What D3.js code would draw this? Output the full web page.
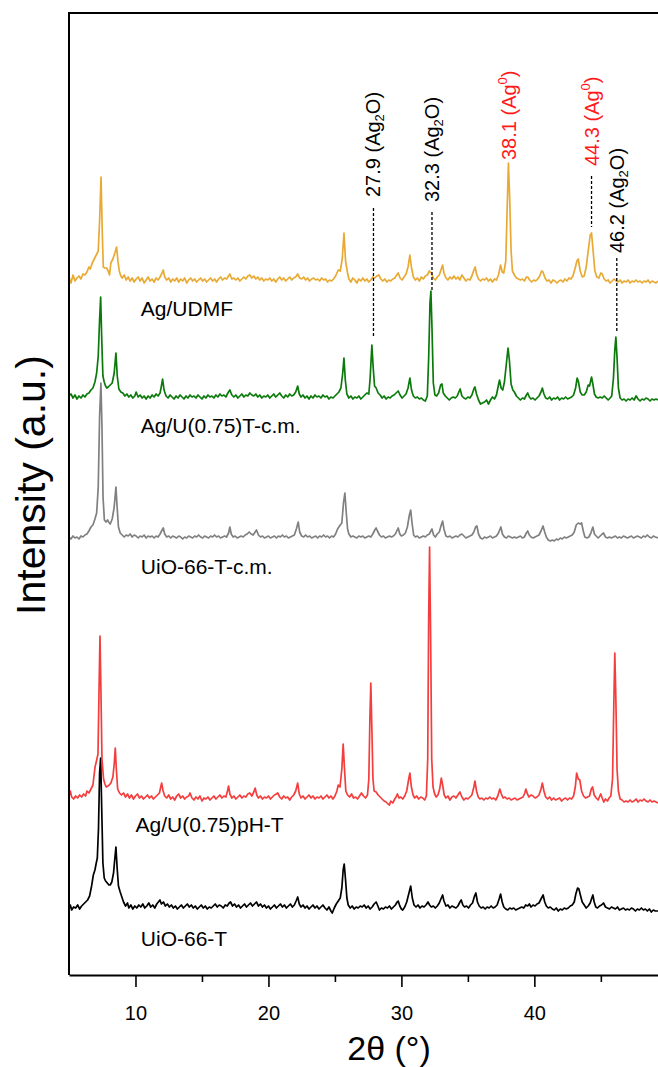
<!DOCTYPE html>
<html>
<head>
<meta charset="utf-8">
<script src="https://cdn.jsdelivr.net/npm/d3@7"></script>
<style>
  html, body { margin: 0; padding: 0; background: #fff; }
  svg { display: block; font-family: "Liberation Sans", Arial, Helvetica, sans-serif; }
</style>
</head>
<body>
<svg id="chart" width="658" height="1067"></svg>
<script>
// ---- XRD patterns: [2θ (°), intensity above the pattern's own baseline (a.u.)] ----
const uio66T = [[5.0,-1],[5.1,3],[5.2,-2],[5.35,1],[5.5,0],[5.65,3],[5.8,-1],[5.95,2],[6.1,4],[6.25,6],[6.4,8],[6.55,12],[6.7,22],[6.83,33],[6.95,38],[7.05,45],[7.13,50],[7.22,80],[7.3,135],[7.38,150],[7.46,100],[7.55,45],[7.65,30],[7.75,27],[7.88,25],[8.0,23],[8.1,23],[8.22,26],[8.35,35],[8.45,50],[8.53,61],[8.62,40],[8.72,22],[8.85,16],[9.0,10],[9.1,6],[9.25,2],[9.4,5],[9.5,0],[9.65,3],[9.8,-1],[9.95,2],[10.1,0],[10.25,3],[10.4,1],[10.55,4],[10.7,0],[10.85,2],[11.0,5],[11.15,1],[11.3,3],[11.45,0],[11.6,4],[11.72,6],[11.84,8],[11.95,4],[12.1,6],[12.25,2],[12.4,4],[12.55,1],[12.7,3],[12.85,0],[13.0,2],[13.15,-1],[13.3,1],[13.45,3],[13.6,0],[13.75,2],[13.9,4],[14.05,1],[14.2,3],[14.35,0],[14.5,2],[14.65,-1],[14.8,1],[14.95,3],[15.1,0],[15.25,2],[15.4,-1],[15.55,1],[15.7,0],[15.85,2],[16.0,4],[16.15,1],[16.3,3],[16.45,2],[16.6,0],[16.75,3],[16.9,2],[17.05,5],[17.15,6],[17.3,2],[17.45,4],[17.6,1],[17.75,3],[17.9,0],[18.05,2],[18.2,4],[18.35,1],[18.5,3],[18.65,5],[18.8,2],[18.95,4],[19.1,6],[19.25,2],[19.4,4],[19.55,1],[19.7,3],[19.85,0],[20.0,2],[20.15,-1],[20.3,1],[20.45,3],[20.6,0],[20.75,2],[20.9,4],[21.05,1],[21.2,3],[21.35,0],[21.5,2],[21.65,4],[21.8,1],[21.95,3],[22.08,7],[22.2,11],[22.32,4],[22.45,1],[22.6,3],[22.75,0],[22.9,2],[23.05,-1],[23.2,1],[23.35,3],[23.5,0],[23.65,2],[23.8,-1],[23.95,1],[24.1,3],[24.25,0],[24.4,-2],[24.55,1],[24.7,-3],[24.8,-5],[24.95,0],[25.1,4],[25.25,7],[25.4,10],[25.52,20],[25.62,38],[25.7,44],[25.8,28],[25.9,10],[26.0,3],[26.15,0],[26.3,2],[26.45,-1],[26.6,1],[26.75,0],[26.9,2],[27.05,1],[27.2,3],[27.35,0],[27.5,2],[27.65,-1],[27.8,1],[27.95,4],[28.1,6],[28.2,3],[28.35,-2],[28.5,0],[28.65,-1],[28.8,1],[28.95,0],[29.1,2],[29.25,-1],[29.4,1],[29.55,3],[29.68,6],[29.76,7],[29.88,2],[30.0,-1],[30.1,-2],[30.25,1],[30.4,6],[30.55,14],[30.7,22],[30.82,10],[30.95,3],[31.1,1],[31.25,3],[31.4,0],[31.55,2],[31.7,1],[31.85,3],[32.0,6],[32.12,3],[32.25,1],[32.4,2],[32.55,0],[32.7,2],[32.85,5],[33.0,10],[33.1,13],[33.2,7],[33.35,2],[33.5,3],[33.65,0],[33.8,2],[33.95,1],[34.1,0],[34.25,2],[34.4,6],[34.5,8],[34.62,3],[34.75,1],[34.9,2],[35.05,0],[35.2,3],[35.35,5],[35.5,12],[35.6,15],[35.72,6],[35.85,2],[36.0,0],[36.15,1],[36.3,-1],[36.45,1],[36.6,0],[36.75,2],[36.9,0],[37.05,1],[37.2,3],[37.35,9],[37.46,14],[37.58,6],[37.7,1],[37.85,-1],[38.0,-2],[38.15,0],[38.3,-1],[38.45,0],[38.6,-2],[38.75,-1],[38.9,0],[39.05,1],[39.2,0],[39.35,3],[39.5,2],[39.62,4],[39.75,1],[39.9,3],[40.05,2],[40.2,4],[40.35,5],[40.5,9],[40.66,13],[40.78,6],[40.9,2],[41.05,0],[41.2,1],[41.35,-1],[41.5,-2],[41.65,0],[41.8,-3],[41.95,-1],[42.1,-2],[42.25,0],[42.4,-1],[42.55,0],[42.7,2],[42.85,3],[43.0,6],[43.12,14],[43.25,20],[43.35,19],[43.48,12],[43.6,6],[43.75,3],[43.9,0],[44.05,2],[44.2,5],[44.32,10],[44.4,13],[44.5,6],[44.62,1],[44.75,0],[44.9,2],[45.05,3],[45.2,5],[45.35,1],[45.5,0],[45.65,-1],[45.8,1],[45.95,0],[46.1,-1],[46.25,1],[46.4,-2],[46.55,-1],[46.7,0],[46.85,-2],[47.0,-1],[47.15,-2],[47.3,0],[47.45,-1],[47.6,-3],[47.75,-1],[47.9,-2],[48.05,0],[48.2,-2],[48.35,-1],[48.5,-3],[48.65,-1],[48.8,-4],[48.95,-2],[49.1,-3],[49.3,-3]];

const agU075pHT = [[5.0,3],[5.1,8],[5.2,2],[5.35,0],[5.5,3],[5.65,1],[5.8,4],[5.95,2],[6.1,5],[6.25,3],[6.35,8],[6.5,6],[6.65,10],[6.8,14],[6.96,32],[7.1,40],[7.18,45],[7.26,110],[7.33,163],[7.4,110],[7.48,40],[7.6,20],[7.7,15],[7.8,12],[7.92,13],[8.03,14],[8.15,16],[8.3,22],[8.4,35],[8.48,51],[8.56,30],[8.66,10],[8.8,6],[8.95,4],[9.1,6],[9.25,2],[9.4,5],[9.55,1],[9.7,4],[9.85,0],[10.0,3],[10.15,5],[10.3,1],[10.45,3],[10.6,0],[10.75,2],[10.9,4],[11.05,1],[11.2,3],[11.35,0],[11.5,2],[11.65,4],[11.8,6],[11.9,12],[11.97,16],[12.08,8],[12.2,3],[12.35,1],[12.5,4],[12.65,0],[12.8,2],[12.95,-1],[13.1,3],[13.25,5],[13.4,1],[13.55,3],[13.7,0],[13.85,2],[14.0,3],[14.1,6],[14.25,1],[14.4,-1],[14.55,2],[14.7,0],[14.85,3],[15.0,-2],[15.15,1],[15.3,0],[15.45,2],[15.6,-1],[15.75,1],[15.9,3],[16.05,0],[16.2,2],[16.35,4],[16.5,1],[16.65,3],[16.8,2],[16.92,8],[17.0,13],[17.1,5],[17.25,1],[17.4,3],[17.55,0],[17.7,2],[17.85,4],[18.0,1],[18.15,3],[18.3,2],[18.45,5],[18.6,6],[18.75,3],[18.9,7],[19.0,11],[19.12,4],[19.25,1],[19.4,3],[19.55,0],[19.7,2],[19.85,1],[20.0,3],[20.15,0],[20.3,2],[20.45,4],[20.6,5],[20.7,6],[20.85,2],[21.0,0],[21.15,3],[21.3,1],[21.45,2],[21.6,-1],[21.75,2],[21.9,4],[22.05,8],[22.2,16],[22.32,5],[22.45,1],[22.6,3],[22.75,0],[22.9,2],[23.05,4],[23.2,1],[23.35,3],[23.5,0],[23.65,2],[23.8,1],[23.95,3],[24.1,0],[24.25,2],[24.4,4],[24.55,1],[24.7,3],[24.85,0],[25.0,3],[25.15,8],[25.25,14],[25.38,12],[25.52,30],[25.62,55],[25.72,30],[25.82,8],[25.95,4],[26.1,2],[26.25,5],[26.4,1],[26.55,2],[26.7,0],[26.85,3],[27.0,6],[27.15,3],[27.3,1],[27.45,4],[27.55,20],[27.63,80],[27.7,116],[27.78,70],[27.86,20],[27.95,8],[28.1,7],[28.25,4],[28.4,2],[28.55,0],[28.7,-2],[28.85,-3],[29.0,-5],[29.1,-6],[29.2,-2],[29.35,-4],[29.5,0],[29.6,2],[29.7,5],[29.82,1],[29.95,2],[30.1,0],[30.25,3],[30.4,8],[30.55,20],[30.64,26],[30.75,12],[30.88,4],[31.0,1],[31.15,3],[31.3,0],[31.45,2],[31.6,1],[31.75,-1],[31.88,3],[31.98,40],[32.05,180],[32.12,252],[32.2,160],[32.28,40],[32.38,12],[32.5,5],[32.62,2],[32.75,4],[32.88,10],[33.0,21],[33.1,14],[33.22,4],[33.35,1],[33.5,3],[33.65,-1],[33.8,2],[33.95,3],[34.1,1],[34.25,4],[34.4,7],[34.55,2],[34.7,-1],[34.85,1],[35.0,0],[35.15,2],[35.3,4],[35.45,12],[35.53,18],[35.65,8],[35.78,2],[35.9,0],[36.05,1],[36.2,-1],[36.35,1],[36.5,0],[36.65,2],[36.8,0],[36.95,1],[37.1,-1],[37.25,3],[37.4,10],[37.52,5],[37.65,1],[37.8,2],[37.95,0],[38.1,1],[38.25,-1],[38.4,0],[38.55,1],[38.7,-1],[38.85,0],[39.0,1],[39.15,2],[39.28,6],[39.36,10],[39.48,5],[39.6,2],[39.75,4],[39.9,3],[40.05,1],[40.2,2],[40.35,4],[40.5,10],[40.6,16],[40.72,8],[40.85,2],[41.0,0],[41.15,2],[41.3,-1],[41.45,1],[41.6,-1],[41.75,0],[41.9,1],[42.05,-2],[42.2,0],[42.35,1],[42.5,-1],[42.65,1],[42.8,0],[42.95,3],[43.08,12],[43.18,26],[43.3,20],[43.42,19],[43.55,8],[43.7,3],[43.85,1],[44.0,2],[44.15,3],[44.28,10],[44.38,12],[44.5,4],[44.65,1],[44.8,-1],[44.92,3],[45.0,5],[45.1,1],[45.22,-3],[45.35,0],[45.5,-2],[45.62,1],[45.75,3],[45.88,20],[45.97,90],[46.05,146],[46.13,100],[46.22,30],[46.32,8],[46.45,0],[46.6,-1],[46.75,-3],[46.9,-2],[47.05,-3],[47.2,-1],[47.35,-3],[47.5,-2],[47.65,0],[47.8,-3],[47.95,-1],[48.1,-2],[48.25,0],[48.4,-2],[48.55,-3],[48.7,-1],[48.85,-3],[49.0,-2],[49.15,-3],[49.3,-4]];

const uio66TCm = [[5.0,0],[5.15,-2],[5.3,1],[5.45,-1],[5.6,0],[5.75,-2],[5.9,1],[6.05,0],[6.2,2],[6.35,3],[6.5,6],[6.65,10],[6.8,12],[6.95,18],[7.08,24],[7.2,50],[7.3,120],[7.4,154],[7.48,110],[7.56,40],[7.66,17],[7.78,15],[7.9,17],[7.98,15],[8.1,13],[8.25,18],[8.4,30],[8.53,50],[8.62,30],[8.72,10],[8.85,4],[9.0,2],[9.15,0],[9.3,2],[9.45,1],[9.6,3],[9.75,0],[9.9,2],[10.05,1],[10.2,-1],[10.35,1],[10.5,0],[10.65,2],[10.8,-1],[10.95,1],[11.1,0],[11.25,1],[11.4,-1],[11.55,1],[11.7,0],[11.85,3],[12.0,7],[12.09,9],[12.2,3],[12.35,0],[12.5,1],[12.65,-1],[12.8,1],[12.95,0],[13.1,-1],[13.25,1],[13.4,0],[13.55,-2],[13.7,0],[13.85,-1],[14.0,1],[14.15,0],[14.3,-1],[14.45,1],[14.6,0],[14.75,2],[14.9,0],[15.05,-1],[15.2,1],[15.35,0],[15.5,-1],[15.65,1],[15.8,0],[15.95,2],[16.1,0],[16.25,1],[16.4,-1],[16.55,0],[16.7,1],[16.85,0],[17.0,4],[17.1,10],[17.2,3],[17.35,0],[17.5,1],[17.65,-1],[17.8,0],[17.95,1],[18.1,0],[18.25,2],[18.4,3],[18.55,5],[18.7,3],[18.85,2],[19.0,5],[19.1,7],[19.25,2],[19.4,0],[19.55,1],[19.7,-1],[19.85,0],[20.0,1],[20.15,-1],[20.3,0],[20.45,1],[20.6,-1],[20.75,1],[20.9,0],[21.05,2],[21.2,0],[21.35,1],[21.5,-1],[21.65,0],[21.8,1],[21.95,2],[22.1,8],[22.24,15],[22.35,5],[22.5,1],[22.65,0],[22.8,2],[22.95,0],[23.1,1],[23.25,-1],[23.4,0],[23.55,1],[23.7,-1],[23.85,1],[24.0,0],[24.15,2],[24.3,0],[24.45,1],[24.6,-1],[24.75,1],[24.9,0],[25.05,3],[25.2,8],[25.4,12],[25.52,14],[25.65,35],[25.75,44],[25.85,25],[25.95,8],[26.05,3],[26.2,0],[26.35,1],[26.5,0],[26.65,-1],[26.8,1],[26.95,0],[27.1,1],[27.25,-1],[27.4,0],[27.55,1],[27.7,0],[27.85,3],[28.0,7],[28.1,9],[28.2,6],[28.35,2],[28.5,0],[28.65,1],[28.8,-1],[28.95,0],[29.1,1],[29.25,0],[29.4,1],[29.55,3],[29.65,6],[29.76,9],[29.88,3],[30.0,1],[30.15,2],[30.3,4],[30.45,10],[30.6,22],[30.7,27],[30.8,14],[30.92,2],[31.05,0],[31.2,1],[31.35,-1],[31.5,0],[31.65,1],[31.8,0],[31.95,2],[32.1,3],[32.3,8],[32.42,2],[32.55,0],[32.7,3],[32.85,5],[33.0,12],[33.1,16],[33.2,8],[33.35,1],[33.5,0],[33.65,1],[33.8,-1],[33.95,0],[34.1,1],[34.25,0],[34.4,2],[34.55,3],[34.7,1],[34.85,-1],[35.0,0],[35.15,1],[35.3,2],[35.45,5],[35.58,10],[35.68,11],[35.8,3],[35.95,-1],[36.1,-2],[36.25,0],[36.4,-1],[36.55,0],[36.7,1],[36.85,-1],[37.0,0],[37.15,1],[37.3,4],[37.48,10],[37.6,3],[37.75,0],[37.9,-1],[38.05,1],[38.2,0],[38.35,-1],[38.5,0],[38.65,-1],[38.8,0],[38.95,1],[39.1,-1],[39.25,0],[39.4,4],[39.5,6],[39.62,2],[39.75,0],[39.9,-1],[40.05,0],[40.2,1],[40.35,2],[40.5,6],[40.65,11],[40.78,5],[40.9,0],[41.05,-3],[41.2,-4],[41.35,-3],[41.5,-4],[41.65,-2],[41.8,-3],[41.95,-1],[42.1,-2],[42.25,0],[42.4,-1],[42.55,0],[42.7,1],[42.85,2],[43.0,5],[43.15,12],[43.3,14],[43.45,13],[43.55,14],[43.68,6],[43.8,0],[43.95,-1],[44.1,0],[44.25,4],[44.4,10],[44.52,3],[44.65,1],[44.8,-1],[44.95,1],[45.1,3],[45.2,4],[45.35,0],[45.5,-1],[45.65,0],[45.8,-1],[45.95,0],[46.1,1],[46.25,-1],[46.4,0],[46.55,-1],[46.7,1],[46.85,0],[47.0,-1],[47.15,0],[47.3,1],[47.45,-1],[47.6,0],[47.75,1],[47.9,0],[48.05,-1],[48.2,1],[48.35,0],[48.5,2],[48.65,0],[48.8,-1],[48.95,1],[49.1,0],[49.3,-1]];

const agU075TCm = [[5.0,2],[5.15,4],[5.3,0],[5.45,3],[5.6,-1],[5.75,2],[5.9,0],[6.05,3],[6.2,1],[6.35,4],[6.5,5],[6.65,8],[6.8,10],[6.95,16],[7.08,25],[7.2,42],[7.3,78],[7.38,101],[7.46,60],[7.55,22],[7.65,16],[7.75,12],[7.85,10],[7.95,11],[8.1,13],[8.25,15],[8.4,25],[8.53,45],[8.63,22],[8.75,9],[8.9,6],[9.05,5],[9.2,2],[9.35,4],[9.5,1],[9.65,3],[9.8,0],[9.95,2],[10.05,6],[10.2,1],[10.35,3],[10.5,0],[10.65,2],[10.8,-1],[10.95,2],[11.1,0],[11.25,3],[11.4,1],[11.55,4],[11.7,2],[11.85,5],[11.95,12],[12.04,19],[12.15,8],[12.3,2],[12.45,0],[12.6,3],[12.75,1],[12.9,-1],[13.05,2],[13.2,0],[13.35,3],[13.5,1],[13.65,-1],[13.8,2],[13.95,0],[14.1,3],[14.25,1],[14.4,2],[14.55,0],[14.7,3],[14.85,1],[15.0,-1],[15.15,2],[15.3,0],[15.45,3],[15.6,1],[15.75,2],[15.9,0],[16.05,3],[16.2,1],[16.35,4],[16.5,2],[16.65,3],[16.8,1],[16.95,5],[17.1,8],[17.25,3],[17.4,1],[17.55,3],[17.7,0],[17.85,2],[18.0,4],[18.15,1],[18.3,3],[18.45,2],[18.6,5],[18.75,3],[18.9,2],[19.05,4],[19.2,1],[19.35,3],[19.5,0],[19.65,2],[19.8,1],[19.95,3],[20.1,0],[20.25,2],[20.4,4],[20.55,1],[20.7,3],[20.85,5],[21.0,2],[21.15,0],[21.3,3],[21.45,1],[21.6,4],[21.75,2],[21.9,3],[22.05,6],[22.2,12],[22.32,4],[22.45,1],[22.6,3],[22.75,0],[22.9,2],[23.05,-1],[23.2,2],[23.35,0],[23.5,3],[23.65,1],[23.8,2],[23.95,0],[24.1,3],[24.25,1],[24.4,2],[24.55,-1],[24.7,1],[24.85,0],[25.0,2],[25.15,4],[25.3,6],[25.45,10],[25.58,24],[25.68,40],[25.78,18],[25.9,4],[26.05,0],[26.2,2],[26.35,-1],[26.5,1],[26.65,0],[26.8,2],[26.95,-1],[27.1,1],[27.25,3],[27.4,5],[27.55,4],[27.65,20],[27.78,53],[27.88,30],[27.98,12],[28.1,10],[28.25,5],[28.4,3],[28.55,0],[28.7,2],[28.85,-1],[29.0,1],[29.15,0],[29.3,2],[29.45,3],[29.6,5],[29.76,7],[29.9,3],[30.05,0],[30.2,2],[30.35,4],[30.5,10],[30.64,20],[30.76,8],[30.9,2],[31.05,0],[31.2,1],[31.35,-1],[31.5,0],[31.65,-2],[31.8,-3],[31.95,2],[32.05,40],[32.15,95],[32.22,107],[32.3,70],[32.4,15],[32.52,3],[32.65,2],[32.8,5],[32.95,13],[33.05,14],[33.15,5],[33.3,2],[33.45,0],[33.6,-2],[33.75,0],[33.9,1],[34.05,0],[34.2,2],[34.35,7],[34.42,9],[34.55,2],[34.7,0],[34.85,-1],[35.0,1],[35.15,0],[35.3,3],[35.45,9],[35.53,11],[35.65,4],[35.8,-2],[35.95,-6],[36.1,-5],[36.25,-4],[36.4,-2],[36.55,-6],[36.7,-2],[36.85,1],[37.0,-1],[37.15,3],[37.3,13],[37.38,18],[37.5,10],[37.62,8],[37.75,16],[37.9,35],[38.02,50],[38.12,38],[38.25,14],[38.38,8],[38.5,6],[38.65,2],[38.8,0],[38.95,-2],[39.1,0],[39.25,-1],[39.4,3],[39.5,5],[39.62,1],[39.75,-1],[39.9,0],[40.05,-2],[40.2,0],[40.35,2],[40.5,6],[40.6,10],[40.72,4],[40.85,0],[41.0,-1],[41.15,1],[41.3,-2],[41.45,0],[41.6,-1],[41.75,1],[41.9,-2],[42.05,0],[42.2,-1],[42.35,1],[42.5,-1],[42.65,0],[42.8,1],[42.95,3],[43.1,10],[43.22,20],[43.32,16],[43.45,6],[43.6,3],[43.75,3],[43.9,6],[44.05,13],[44.15,12],[44.3,21],[44.4,14],[44.52,4],[44.65,1],[44.8,0],[44.95,1],[45.1,0],[45.25,2],[45.4,0],[45.55,-2],[45.7,0],[45.82,2],[45.95,20],[46.05,48],[46.13,61],[46.22,40],[46.32,10],[46.45,0],[46.6,-2],[46.75,-1],[46.9,-3],[47.05,-1],[47.2,-2],[47.35,0],[47.5,-2],[47.65,2],[47.8,-1],[47.95,-3],[48.1,-1],[48.25,-2],[48.4,0],[48.55,-1],[48.7,-3],[48.85,-1],[49.0,-2],[49.15,-1],[49.3,-2]];

const agUDMF = [[5.0,4],[5.15,-2],[5.3,6],[5.45,0],[5.6,3],[5.75,5],[5.9,2],[6.05,7],[6.2,6],[6.35,9],[6.5,14],[6.6,12],[6.75,18],[6.9,22],[7.05,26],[7.2,30],[7.3,60],[7.41,104],[7.5,50],[7.58,14],[7.7,13],[7.83,13],[7.95,10],[8.05,6],[8.15,18],[8.3,22],[8.45,28],[8.58,34],[8.68,20],[8.78,10],[8.9,5],[9.0,3],[9.15,6],[9.3,1],[9.45,4],[9.6,0],[9.75,3],[9.9,-1],[10.05,2],[10.2,4],[10.35,0],[10.5,3],[10.65,-2],[10.8,1],[10.95,4],[11.1,0],[11.25,2],[11.4,-1],[11.55,3],[11.7,1],[11.85,4],[12.0,8],[12.09,11],[12.2,4],[12.35,1],[12.5,3],[12.65,-1],[12.8,2],[12.95,0],[13.1,3],[13.25,-1],[13.4,2],[13.55,0],[13.7,3],[13.85,-2],[14.0,1],[14.15,3],[14.3,0],[14.45,2],[14.6,-1],[14.75,1],[14.9,3],[15.05,0],[15.2,2],[15.35,-1],[15.5,1],[15.65,3],[15.8,0],[15.95,2],[16.1,-1],[16.25,2],[16.4,4],[16.55,1],[16.7,3],[16.85,2],[17.0,5],[17.1,7],[17.25,2],[17.4,3],[17.55,1],[17.7,3],[17.85,0],[18.0,2],[18.15,4],[18.3,2],[18.45,5],[18.6,6],[18.75,3],[18.9,5],[19.05,2],[19.2,4],[19.35,1],[19.5,3],[19.65,0],[19.8,2],[19.95,1],[20.1,3],[20.25,0],[20.4,2],[20.55,-1],[20.7,2],[20.85,4],[21.0,1],[21.15,3],[21.3,0],[21.45,2],[21.6,4],[21.75,1],[21.9,3],[22.05,4],[22.2,7],[22.35,3],[22.5,2],[22.65,4],[22.8,1],[22.95,3],[23.1,0],[23.25,2],[23.4,3],[23.55,1],[23.7,2],[23.85,0],[24.0,3],[24.15,1],[24.3,2],[24.45,-1],[24.6,1],[24.75,0],[24.9,2],[25.05,5],[25.25,11],[25.4,10],[25.55,22],[25.68,48],[25.8,20],[25.95,8],[26.05,2],[26.2,-1],[26.35,3],[26.5,1],[26.65,-2],[26.8,2],[26.95,0],[27.1,3],[27.25,0],[27.4,2],[27.55,-1],[27.7,1],[27.85,4],[28.0,3],[28.15,5],[28.3,6],[28.45,2],[28.6,0],[28.75,2],[28.9,-1],[29.05,1],[29.2,0],[29.35,2],[29.5,3],[29.65,6],[29.76,8],[29.9,3],[30.05,1],[30.2,4],[30.35,7],[30.5,14],[30.64,26],[30.75,14],[30.9,4],[31.05,1],[31.2,3],[31.35,0],[31.5,4],[31.65,2],[31.8,5],[31.95,6],[32.1,10],[32.25,8],[32.4,3],[32.55,1],[32.7,4],[32.85,6],[33.0,12],[33.1,16],[33.2,8],[33.35,3],[33.5,1],[33.65,4],[33.8,2],[33.95,5],[34.1,2],[34.25,4],[34.4,1],[34.55,6],[34.7,3],[34.85,0],[35.0,2],[35.15,1],[35.3,5],[35.45,11],[35.55,14],[35.65,7],[35.8,2],[35.95,0],[36.1,2],[36.25,1],[36.4,3],[36.55,0],[36.7,2],[36.85,-1],[37.0,2],[37.15,1],[37.3,6],[37.46,16],[37.58,9],[37.7,8],[37.85,20],[37.95,70],[38.05,118],[38.15,80],[38.25,30],[38.35,10],[38.5,6],[38.65,3],[38.8,2],[38.95,1],[39.1,2],[39.25,0],[39.4,4],[39.5,4],[39.65,1],[39.8,-1],[39.95,1],[40.1,0],[40.25,2],[40.4,5],[40.55,10],[40.65,9],[40.8,3],[40.95,0],[41.1,1],[41.25,-2],[41.4,1],[41.55,0],[41.7,-2],[41.85,0],[42.0,1],[42.15,-1],[42.3,2],[42.45,0],[42.6,3],[42.75,2],[42.9,5],[43.05,12],[43.2,20],[43.3,22],[43.45,10],[43.6,4],[43.75,5],[43.9,14],[44.05,30],[44.2,46],[44.3,48],[44.42,30],[44.55,10],[44.7,4],[44.85,3],[45.0,8],[45.1,7],[45.25,2],[45.4,0],[45.55,1],[45.7,-2],[45.85,0],[46.0,2],[46.15,0],[46.3,-1],[46.45,1],[46.6,-2],[46.75,0],[46.9,-1],[47.05,1],[47.2,-2],[47.35,0],[47.5,-1],[47.65,1],[47.8,-1],[47.95,0],[48.1,-2],[48.25,0],[48.4,-1],[48.55,1],[48.7,-2],[48.85,0],[49.0,-1],[49.15,-2],[49.3,0]];

// ---- stacking, names, colours ----
const seriesData    = [uio66T, agU075pHT, uio66TCm, agU075TCm, agUDMF];
const seriesNames   = ["UiO-66-T", "Ag/U(0.75)pH-T", "UiO-66-T-c.m.", "Ag/U(0.75)T-c.m.", "Ag/UDMF"];
const seriesOffsets = [67, 176, 438, 577, 694];
const seriesColors  = ["#000000", "#f43d3d", "#808080", "#0b7a0b", "#e8aa35"];

// ---- reflection markers ----
const peakPositions = [27.9, 32.3, 38.1, 44.3, 46.2];
const peakPhases    = ["Ag2O", "Ag2O", "Ag0", "Ag0", "Ag2O"];

// ---- axis ticks ----
const xMajorTicks = [10, 20, 30, 40];
const xMinorTicks = [15, 25, 35, 45];

// ---- layout ----
const svg = d3.select("#chart");
const plot = { left: 69, right: 662, top: 13, bottom: 975 };

const x = d3.scaleLinear().domain([5, 49.6]).range([plot.left, plot.right]);
const y = d3.scaleLinear().domain([0, plot.bottom - plot.top]).range([plot.bottom, plot.top]);

svg.append("defs").append("clipPath").attr("id", "plot-clip")
  .append("rect")
  .attr("x", plot.left).attr("y", plot.top)
  .attr("width", plot.right - plot.left).attr("height", plot.bottom - plot.top);

// patterns
const traces = svg.append("g").attr("clip-path", "url(#plot-clip)");
seriesData.forEach((pts, i) => {
  const line = d3.line()
    .x(d => x(d[0]))
    .y(d => y(seriesOffsets[i] + d[1]));
  traces.append("path")
    .datum(pts)
    .attr("d", line)
    .attr("fill", "none")
    .attr("stroke", seriesColors[i])
    .attr("stroke-width", 1.7)
    .attr("stroke-linejoin", "round");
});

// pattern names under each baseline
const nameShift = [38, 33, 37, 35, 35];
const nameAt2Theta = [10.4, 10.0, 10.4, 10.4, 10.4];
seriesNames.forEach((name, i) => {
  svg.append("text")
    .attr("x", x(nameAt2Theta[i]))
    .attr("y", y(seriesOffsets[i]) + nameShift[i])
    .attr("font-size", 21)
    .attr("fill", "#000")
    .text(name);
});

// reflection labels and dashed guides
const labelBottom = [197, 202, 160, 166, 253];
const guideSpan   = [[208, 337], [212, 290], null, [176, 227], [258, 332]];
peakPositions.forEach((pos, i) => {
  const px = x(pos);
  const isMetal = peakPhases[i] === "Ag0";
  const color = isMetal ? "#ff1a1a" : "#000";
  const t = svg.append("text")
    .attr("transform", `translate(${px + 7},${labelBottom[i]}) rotate(-90)`)
    .attr("font-size", 20)
    .attr("fill", color);
  t.append("tspan").text(pos.toFixed(1) + " (Ag");
  if (isMetal) {
    t.append("tspan").attr("font-size", 13).attr("dy", -9).text("0");
    t.append("tspan").attr("dy", 9).text(")");
  } else {
    t.append("tspan").attr("font-size", 13).attr("dy", 4).text("2");
    t.append("tspan").attr("dy", -4).text("O)");
  }
  if (guideSpan[i]) {
    svg.append("line")
      .attr("x1", px).attr("x2", px)
      .attr("y1", guideSpan[i][0]).attr("y2", guideSpan[i][1])
      .attr("stroke", "#000")
      .attr("stroke-width", 1.3)
      .attr("stroke-dasharray", "3,2");
  }
});

// frame (left and top edges)
svg.append("path")
  .attr("d", `M${plot.left},${plot.bottom}V${plot.top}H${plot.right}`)
  .attr("fill", "none").attr("stroke", "#000").attr("stroke-width", 2);

// bottom axis with major and minor ticks
const axisG = svg.append("g").attr("transform", `translate(0,${plot.bottom})`);
axisG.call(d3.axisBottom(x).tickValues(xMajorTicks).tickSize(12).tickSizeOuter(0).tickPadding(19));
axisG.select(".domain").attr("stroke-width", 2);
axisG.selectAll(".tick line").attr("stroke-width", 1.6);
axisG.selectAll(".tick text").attr("font-size", 20).attr("font-family", "Liberation Sans, Arial, sans-serif").attr("fill", "#000");

const minorG = svg.append("g").attr("transform", `translate(0,${plot.bottom})`);
minorG.call(d3.axisBottom(x).tickValues(xMinorTicks).tickSize(7).tickSizeOuter(0).tickFormat(""));
minorG.select(".domain").remove();
minorG.selectAll(".tick line").attr("stroke-width", 1.6);

// axis titles
svg.append("text")
  .attr("x", 389).attr("y", 1060)
  .attr("text-anchor", "middle")
  .attr("font-size", 34)
  .attr("fill", "#000")
  .text("2θ (°)");

svg.append("text")
  .attr("transform", `translate(45,485) rotate(-90)`)
  .attr("text-anchor", "middle")
  .attr("font-size", 41)
  .attr("fill", "#000")
  .text("Intensity (a.u.)");
</script>
</body>
</html>
